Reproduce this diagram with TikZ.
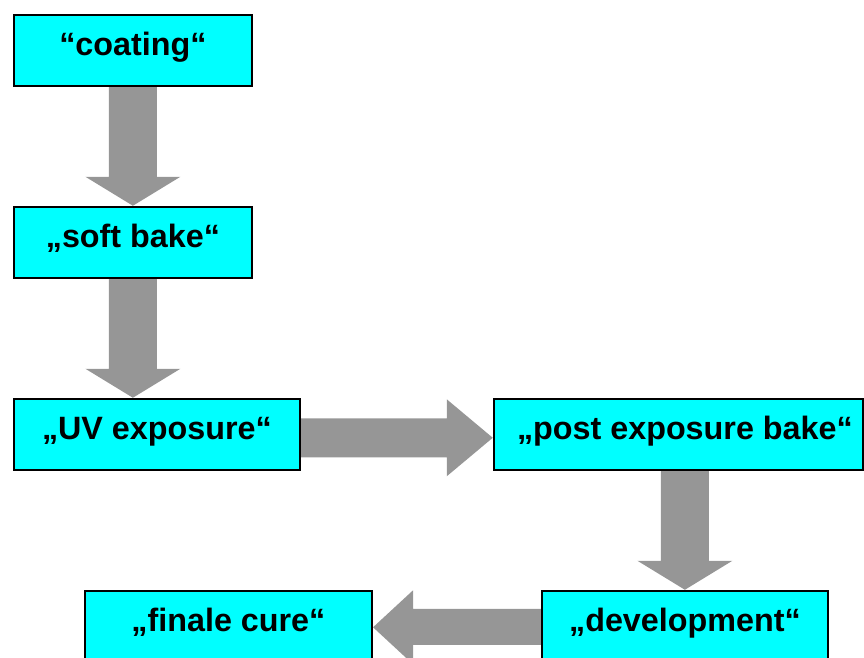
\documentclass[tikz,border=0pt]{standalone}
\usepackage{fontspec}
\setmainfont{Liberation Sans}
\usetikzlibrary{calc,backgrounds}
\definecolor{boxcyan}{HTML}{00FFFF}
\definecolor{arrowgray}{HTML}{969696}
\tikzset{
  stepbox/.style={draw=black, line width=1.8pt, fill=boxcyan, rectangle,
    inner xsep=0pt, inner ysep=0pt, text height=40.5pt, text depth=30.75pt,
    anchor=north west, font=\bfseries\fontsize{32.3}{38}\selectfont},
  blockarrow/.style={fill=arrowgray}
}
\begin{document}
\begin{tikzpicture}[x=1pt,y=-1pt]
\useasboundingbox (0,0) rectangle (864,657);
\node[stepbox, minimum width=238.5pt] (coating) at (12.75,13.75) {“coating“};
\node[stepbox, minimum width=238.5pt] (softbake) at (12.75,205.75) {„soft bake“};
\node[stepbox, minimum width=286.5pt] (uv) at (12.75,397.75) {„UV exposure“};
\node[stepbox, minimum width=369.5pt] (post) at (492.75,397.75) {\hspace*{13pt}„post exposure bake“};
\node[stepbox, minimum width=286.5pt] (devel) at (540.75,589.75) {„development“};
\node[stepbox, minimum width=287.5pt] (finale) at (83.75,589.75) {„finale cure“};
\begin{pgfonlayer}{background}
% coating -> soft bake
\fill[blockarrow] let \p1=(coating.south), \p2=(softbake.north) in
  (\x2-24pt,\y1) -- (\x2-24pt,\y2+29pt) -- (\x2-47.5pt,\y2+29pt) -- (\x2,\y2)
  -- (\x2+47.5pt,\y2+29pt) -- (\x2+24pt,\y2+29pt) -- (\x2+24pt,\y1) -- cycle;
% soft bake -> UV exposure
\fill[blockarrow] let \p1=(softbake.south), \p2=(uv.north), \p3=(softbake.north) in
  (\x3-24pt,\y1) -- (\x3-24pt,\y2+29pt) -- (\x3-47.5pt,\y2+29pt) -- (\x3,\y2)
  -- (\x3+47.5pt,\y2+29pt) -- (\x3+24pt,\y2+29pt) -- (\x3+24pt,\y1) -- cycle;
% UV exposure -> post exposure bake
\fill[blockarrow] let \p1=(uv.east), \p2=(post.west) in
  (\x1,\y2+16pt) -- (\x2-46pt,\y2+16pt) -- (\x2-46pt,\y2+35pt) -- (\x2,\y2-3.5pt)
  -- (\x2-46pt,\y2-42pt) -- (\x2-46pt,\y2-23pt) -- (\x1,\y2-23pt) -- cycle;
% post exposure bake -> development
\fill[blockarrow] let \p1=(post.south), \p2=(devel.north) in
  (\x2-24pt,\y1) -- (\x2-24pt,\y2+29pt) -- (\x2-47.5pt,\y2+29pt) -- (\x2,\y2)
  -- (\x2+47.5pt,\y2+29pt) -- (\x2+24pt,\y2+29pt) -- (\x2+24pt,\y1) -- cycle;
% development -> finale cure
\fill[blockarrow] let \p1=(devel.west), \p2=(finale.east) in
  (\x1,\y2+17.5pt) -- (\x2+40pt,\y2+17.5pt) -- (\x2+40pt,\y2+36pt) -- (\x2,\y2-1pt)
  -- (\x2+40pt,\y2-38pt) -- (\x2+40pt,\y2-18.5pt) -- (\x1,\y2-18.5pt) -- cycle;
\end{pgfonlayer}
\end{tikzpicture}
\end{document}
